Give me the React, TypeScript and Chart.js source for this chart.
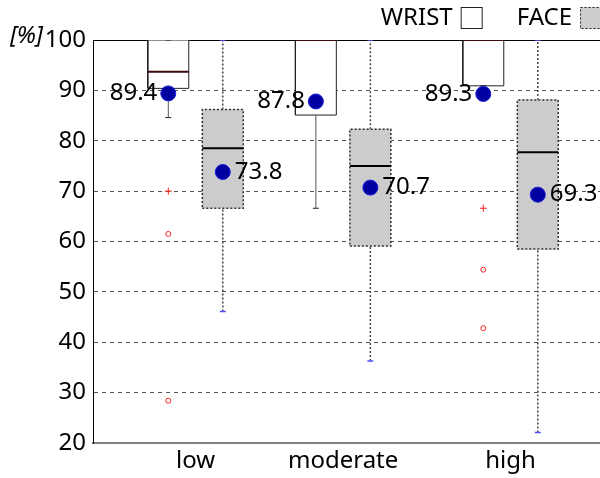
import React, { useEffect, useRef } from 'react';
import { Chart, registerables } from 'chart.js';

Chart.register(...registerables);

// ---------------- data ----------------
const categories = ['low', 'moderate', 'high'];
const categoryPositions = [1, 1.937, 3];
const seriesNames = ['WRIST', 'FACE'];

const wristQ1 = [90.4, 85.1, 90.9];
const wristMedian = [93.7, 100, 100];
const wristQ3 = [100, 100, 100];
const wristWhiskerLow = [84.6, 66.6, 90.9];
const wristWhiskerHigh = [100, 100, 100];
const wristMean = [89.4, 87.8, 89.3];
const wristOutliersPlus = [[70.0], [], [66.6]];
const wristOutliersRing = [[61.5, 28.4], [], [54.4, 42.8]];

const faceQ1 = [66.6, 59.1, 58.5];
const faceMedian = [78.5, 75.0, 77.7];
const faceQ3 = [86.2, 82.3, 88.1];
const faceWhiskerLow = [46.1, 36.3, 22.1];
const faceWhiskerHigh = [100, 100, 100];
const faceMean = [73.8, 70.7, 69.3];

const yMin = 20;
const yMax = 100;
const yStep = 10;

// ---------------- layout / style constants ----------------
const X_MIN = 0.349;
const X_MAX = 3.568;
const GROUP_OFFSET = 0.173;
const BOX_HALF = 0.13;
const CAP_HALF = 0.019;
const FONT = '"Noto Sans", "DejaVu Sans", sans-serif';

const xAt = (i: number, side: number) => categoryPositions[i] + side * GROUP_OFFSET;

type Seg = [number, number, number, number];
const segData = (segs: Seg[]) =>
  segs.flatMap(([x1, y1, x2, y2]) => [
    { x: x1, y: y1 },
    { x: x2, y: y2 },
    { x: x2, y: null as any },
  ]);

const whiskerSegs = (side: number, low: number[], q1: number[], q3: number[], high: number[]): Seg[] =>
  categories.flatMap((_, i) => {
    const x = xAt(i, side);
    return [
      [x, low[i], x, q1[i]] as Seg,
      [x, q3[i], x, high[i]] as Seg,
    ];
  });

const capSegs = (side: number, low: number[], high: number[]): Seg[] =>
  categories.flatMap((_, i) => {
    const x = xAt(i, side);
    return [
      [x - CAP_HALF, low[i], x + CAP_HALF, low[i]] as Seg,
      [x - CAP_HALF, high[i], x + CAP_HALF, high[i]] as Seg,
    ];
  });

const medianSegs = (side: number, med: number[]): Seg[] =>
  categories.map((_, i) => {
    const x = xAt(i, side);
    return [x - BOX_HALF, med[i], x + BOX_HALF, med[i]] as Seg;
  });

const rectData = (side: number, q1: number[], q3: number[]) =>
  categories.flatMap((_, i) => {
    const x = xAt(i, side);
    const l = x - BOX_HALF;
    const r = x + BOX_HALF;
    return [
      { x: l, y: q1[i] },
      { x: r, y: q1[i] },
      { x: r, y: q3[i] },
      { x: l, y: q3[i] },
      { x: l, y: q1[i] },
      { x: l, y: null as any },
    ];
  });

const lineDs = (label: string, data: any[], color: string, width: number, dash: number[], order: number) => ({
  type: 'line' as const,
  label,
  data,
  borderColor: color,
  borderWidth: width,
  borderDash: dash,
  pointRadius: 0,
  pointHoverRadius: 0,
  fill: false,
  tension: 0,
  spanGaps: false,
  order,
});

const WRIST_COLOR = '#ffffff';
const FACE_COLOR = '#cccccc';

const datasets: any[] = [
  lineDs('wrist-whisker', segData(whiskerSegs(-1, wristWhiskerLow, wristQ1, wristQ3, wristWhiskerHigh)), '#555555', 1, [], 9),
  lineDs('face-whisker', segData(whiskerSegs(1, faceWhiskerLow, faceQ1, faceQ3, faceWhiskerHigh)), '#444444', 1.5, [2, 2], 9),
  {
    type: 'bar',
    label: seriesNames[0],
    data: categories.map((_, i) => ({ x: xAt(i, -1), y: [wristQ1[i], wristQ3[i]] })),
    backgroundColor: WRIST_COLOR,
    borderWidth: 0,
    barThickness: 41,
    grouped: false,
    order: 8,
  },
  {
    type: 'bar',
    label: seriesNames[1],
    data: categories.map((_, i) => ({ x: xAt(i, 1), y: [faceQ1[i], faceQ3[i]] })),
    backgroundColor: FACE_COLOR,
    borderWidth: 0,
    barThickness: 41,
    grouped: false,
    order: 8,
  },
  lineDs('wrist-box', rectData(-1, wristQ1, wristQ3), '#222222', 1, [], 7),
  lineDs('face-box', rectData(1, faceQ1, faceQ3), '#333333', 1.5, [2, 2], 7),
  lineDs('wrist-cap', segData(capSegs(-1, wristWhiskerLow, wristWhiskerHigh)), '#222222', 1, [], 6),
  lineDs('face-cap', segData(capSegs(1, faceWhiskerLow, faceWhiskerHigh)), '#5050ff', 1.5, [], 6),
  lineDs('wrist-median', segData(medianSegs(-1, wristMedian)), '#3a0a0a', 2, [], 5),
  lineDs('face-median', segData(medianSegs(1, faceMedian)), '#000000', 2, [], 5),
  {
    type: 'scatter',
    label: 'wrist-outlier-plus',
    data: categories.flatMap((_, i) => wristOutliersPlus[i].map((v) => ({ x: xAt(i, -1), y: v }))),
    pointStyle: 'cross',
    pointRadius: 3.5,
    borderColor: '#ff2020',
    borderWidth: 1,
    backgroundColor: 'transparent',
    order: 3,
  },
  {
    type: 'scatter',
    label: 'wrist-outlier-ring',
    data: categories.flatMap((_, i) => wristOutliersRing[i].map((v) => ({ x: xAt(i, -1), y: v }))),
    pointStyle: 'circle',
    pointRadius: 2.5,
    borderColor: '#ff2020',
    borderWidth: 1,
    backgroundColor: 'transparent',
    order: 3,
  },
  {
    type: 'scatter',
    label: 'wrist-mean',
    data: categories.map((_, i) => ({ x: xAt(i, -1), y: wristMean[i] })),
    pointStyle: 'circle',
    pointRadius: 7.5,
    backgroundColor: '#0000a0',
    borderColor: '#1a1ad8',
    borderWidth: 1,
    order: 1,
  },
  {
    type: 'scatter',
    label: 'face-mean',
    data: categories.map((_, i) => ({ x: xAt(i, 1), y: faceMean[i] })),
    pointStyle: 'circle',
    pointRadius: 7.5,
    backgroundColor: '#0000a0',
    borderColor: '#1a1ad8',
    borderWidth: 1,
    order: 1,
  },
];

const framePlugin = {
  id: 'frameTop',
  beforeDatasetsDraw(chart: any) {
    const { ctx, chartArea } = chart;
    ctx.save();
    ctx.strokeStyle = '#000';
    ctx.lineWidth = 1;
    ctx.beginPath();
    ctx.moveTo(chartArea.left, chartArea.top + 0.5);
    ctx.lineTo(chartArea.right, chartArea.top + 0.5);
    ctx.stroke();
    ctx.restore();
  },
};

const meanLabelPlugin = {
  id: 'meanLabels',
  afterDatasetsDraw(chart: any) {
    const { ctx } = chart;
    ctx.save();
    ctx.font = `24px ${FONT}`;
    ctx.fillStyle = '#000';
    ctx.textBaseline = 'middle';
    chart.data.datasets.forEach((ds: any, di: number) => {
      if (ds.label !== 'wrist-mean' && ds.label !== 'face-mean') return;
      const meta = chart.getDatasetMeta(di);
      const left = ds.label === 'wrist-mean';
      meta.data.forEach((pt: any, i: number) => {
        const v = ds.data[i].y;
        ctx.textAlign = left ? 'right' : 'left';
        ctx.fillText(v.toFixed(1), left ? pt.x - 11 : pt.x + 12, pt.y);
      });
    });
    ctx.restore();
  },
};

const legendPlugin = {
  id: 'customLegend',
  afterDraw(chart: any) {
    const { ctx, chartArea } = chart;
    ctx.save();
    ctx.font = `24px ${FONT}`;
    ctx.textBaseline = 'middle';
    ctx.fillStyle = '#000';
    const boxSize = 22;
    const cy = 18;
    const items = [
      { label: seriesNames[0], fill: WRIST_COLOR, dash: [] as number[] },
      { label: seriesNames[1], fill: FACE_COLOR, dash: [2, 2] },
    ];
    let right = chart.width + 2;
    for (let k = items.length - 1; k >= 0; k--) {
      const it = items[k];
      const bx = right - boxSize;
      ctx.fillStyle = it.fill;
      ctx.fillRect(bx, cy - boxSize / 2, boxSize, boxSize);
      ctx.strokeStyle = '#222';
      ctx.lineWidth = 1;
      ctx.setLineDash(it.dash);
      ctx.strokeRect(bx + 0.5, cy - boxSize / 2 + 0.5, boxSize - 1, boxSize - 1);
      ctx.setLineDash([]);
      ctx.fillStyle = '#000';
      ctx.textAlign = 'right';
      const tx = bx - 8;
      ctx.fillText(it.label, tx, cy);
      right = tx - ctx.measureText(it.label).width - 34;
    }
    ctx.font = `italic 24px ${FONT}`;
    ctx.textAlign = 'right';
    ctx.fillText('[%]', chartArea.left - 50, chartArea.top - 4);
    ctx.restore();
  },
};

export default function App() {
  const ref = useRef<HTMLCanvasElement>(null);
  useEffect(() => {
    if (!ref.current) return;
    Chart.defaults.font.family = FONT;
    const chart = new Chart(ref.current, {
      type: 'scatter',
      data: { datasets },
      options: {
        animation: false,
        responsive: false,
        events: [],
        layout: { autoPadding: false, padding: { top: 40, right: 0, left: 0, bottom: 0 } },
        plugins: {
          legend: { display: false },
          tooltip: { enabled: false },
        },
        scales: {
          x: {
            type: 'linear',
            min: X_MIN,
            max: X_MAX,
            offset: false,
            grid: { display: false, drawTicks: false },
            border: { display: true, color: '#808080', width: 2 },
            afterBuildTicks: (scale: any) => {
              scale.ticks = categoryPositions.map((v) => ({ value: v }));
            },
            afterFit: (scale: any) => {
              scale.height = 35;
              scale.paddingLeft = 0;
              scale.paddingRight = 0;
            },
            ticks: {
              autoSkip: false,
              maxRotation: 0,
              padding: 4,
              color: '#000',
              font: { size: 24, family: FONT },
              callback: (value: any) => {
                const idx = categoryPositions.findIndex((p) => Math.abs(p - value) < 1e-6);
                return idx >= 0 ? categories[idx] : '';
              },
            },
          },
          y: {
            type: 'linear',
            min: yMin,
            max: yMax,
            grid: { display: true, drawTicks: false, color: '#555555', lineWidth: 1 },
            border: { display: true, color: '#000', width: 1, dash: [4, 4] },
            afterFit: (scale: any) => {
              scale.width = 93;
            },
            ticks: {
              stepSize: yStep,
              padding: 7,
              color: '#000',
              font: { size: 24, family: FONT },
            },
          },
        },
      } as any,
      plugins: [framePlugin, meanLabelPlugin, legendPlugin],
    });
    return () => chart.destroy();
  }, []);
  return (
    <div style={{ position: 'absolute', left: 0, top: 0, width: 600, height: 478 }}>
      <canvas ref={ref} width={600} height={478} style={{ display: 'block' }} />
    </div>
  );
}
